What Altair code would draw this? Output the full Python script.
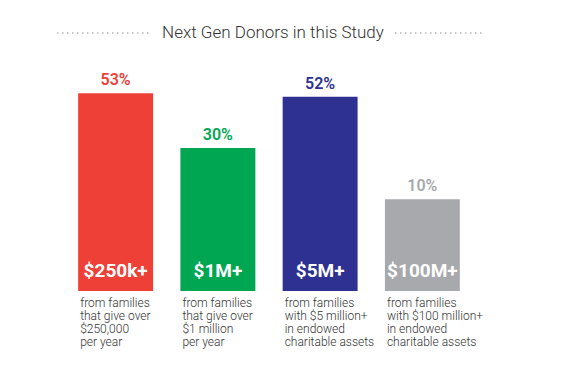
import altair as alt
import pandas as pd

# Data
categories = ["$250k+", "$1M+", "$5M+", "$100M+"]
percent_labels = ["53%", "30%", "52%", "10%"]
# bar lengths as drawn in the infographic (in percent units of the 53% bar)
bar_heights = [53, 38.3, 52, 24.6]
colors = ["#EE4037", "#00A651", "#2E3192", "#A7A9AC"]
descriptions = [
    "from families\nthat give over\n$250,000\nper year",
    "from families\nthat give over\n$1 million\nper year",
    "from families\nwith $5 million+\nin endowed\ncharitable assets",
    "from families\nwith $100 million+\nin endowed\ncharitable assets",
]
title_text = "Next Gen Donors in this Study"

df = pd.DataFrame({
    "cat": categories,
    "pct": percent_labels,
    "h": bar_heights,
    "desc": descriptions,
})

xscale = alt.Scale(paddingInner=0.267, paddingOuter=0.1335)
xenc = alt.X("cat:N", sort=categories, scale=xscale, axis=None)
yscale = alt.Scale(domain=[0, 60])
color = alt.Color("cat:N", sort=categories,
                  scale=alt.Scale(domain=categories, range=colors), legend=None)

base = alt.Chart(df)

bars = base.mark_bar().encode(
    x=xenc,
    y=alt.Y("h:Q", scale=yscale, axis=None),
    color=color,
)

pct = base.mark_text(baseline="bottom", dy=-5, fontSize=16, fontWeight=600,
                     font="Roboto").encode(
    x=xenc,
    y=alt.Y("h:Q", scale=yscale, axis=None),
    text="pct:N",
    color=color,
)

inner = base.mark_text(baseline="middle", dy=-20, fontSize=19, fontWeight="bold",
                       font="Roboto", color="white").encode(
    x=xenc,
    y=alt.datum(0, scale=yscale),
    text="cat:N",
)

desc = base.mark_text(baseline="top", align="left", dx=2, dy=7, fontSize=12,
                      lineHeight=13, lineBreak="\n", font="Roboto", fontWeight=300,
                      color="#333333").encode(
    x=alt.X("cat:N", sort=categories, bandPosition=0, scale=xscale, axis=None),
    y=alt.datum(0, scale=yscale),
    text="desc:N",
)

title = alt.Chart(pd.DataFrame({"t": [title_text]})).mark_text(
    fontSize=17, font="Roboto", fontWeight=300, color="#333333", baseline="middle"
).encode(x=alt.value(208.5), y=alt.value(-34), text="t:N")

dot_left = alt.Chart(pd.DataFrame({"a": [0]})).mark_rule(
    strokeDash=[1.5, 3.5], strokeWidth=1.5, color="#B5B5B5"
).encode(x=alt.value(-7.5), x2=alt.value(85.5), y=alt.value(-34))

dot_right = alt.Chart(pd.DataFrame({"a": [0]})).mark_rule(
    strokeDash=[1.5, 3.5], strokeWidth=1.5, color="#B5B5B5"
).encode(x=alt.value(330.5), x2=alt.value(418.5), y=alt.value(-34))

chart = alt.layer(bars, pct, inner, desc, title, dot_left, dot_right).properties(
    width=409,
    height=224,
    background="white",
    autosize=alt.AutoSizeParams(type="none"),
    padding={"left": 56.5, "top": 59, "right": 84.5, "bottom": 73},
).configure_view(strokeWidth=0, stroke="transparent")

chart.save("out.html", embed_options={"renderer": "svg", "actions": False})
